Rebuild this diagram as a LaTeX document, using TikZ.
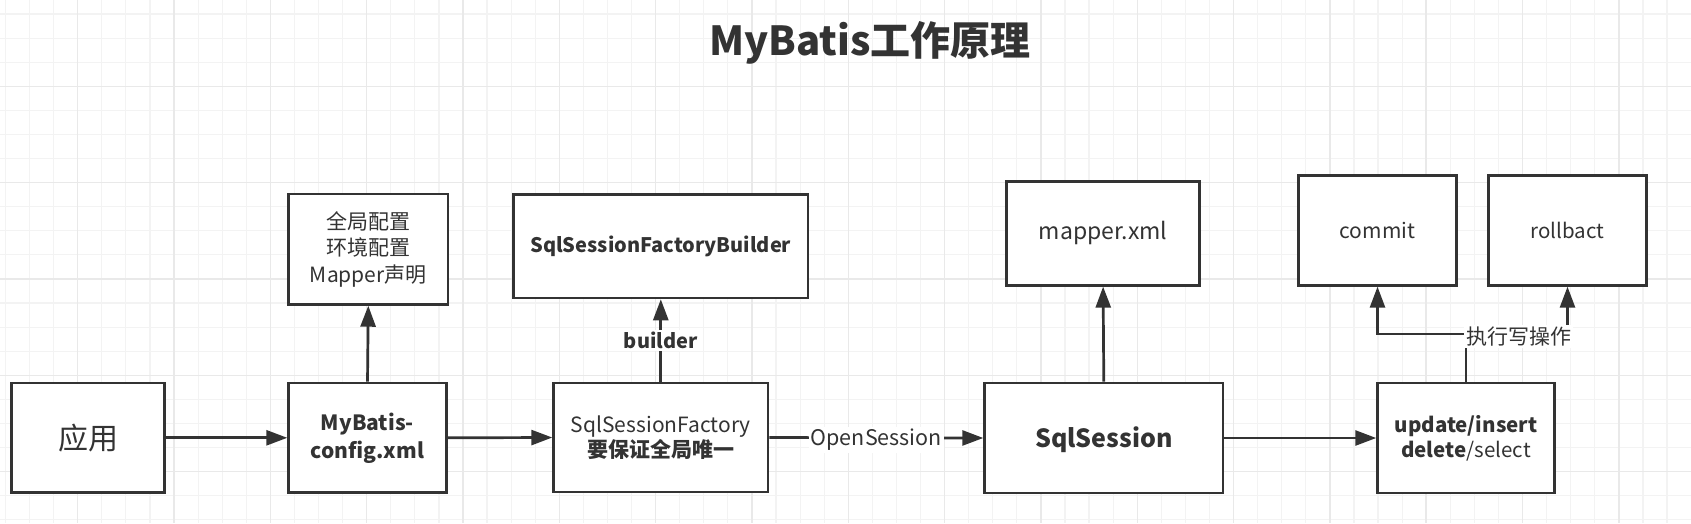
\documentclass[tikz,border=0pt]{standalone}
\usepackage{fontspec}
\setmainfont{Noto Sans CJK SC}
\usetikzlibrary{arrows.meta}
\definecolor{ink}{HTML}{333333}
\definecolor{gmin}{HTML}{F3F3F3}
\definecolor{gmaj}{HTML}{E9E9E9}
\newcommand{\fsz}[2]{\fontsize{#1}{#2}\selectfont}
\begin{document}
\begin{tikzpicture}[x=1pt,y=-1pt,
  box/.style={draw=ink,line width=2.7pt,fill=white,inner sep=0pt,align=center,text=ink},
  conn/.style={draw=ink,line width=2.7pt,-{Triangle[length=21pt,width=15pt]}},
  lbl/.style={fill=white,text=ink,inner sep=2pt}]
\useasboundingbox (0,0) rectangle (1691,523);
\fill[white] (0,0) rectangle (1691,523);
% grid
\foreach \k in {0,...,71} \draw[gmin,line width=1.2pt] ({-18.6+24.08*\k},0) -- ({-18.6+24.08*\k},523);
\foreach \k in {0,...,22} \draw[gmin,line width=1.2pt] (0,{-10+24.08*\k}) -- (1691,{-10+24.08*\k});
\foreach \k in {0,...,18} \draw[gmaj,line width=1.5pt] ({-18.6+96.32*\k},0) -- ({-18.6+96.32*\k},523);
\foreach \k in {0,...,6} \draw[gmaj,line width=1.5pt] (0,{-10+96.32*\k}) -- (1691,{-10+96.32*\k});
% title
\node[text=ink,font=\fsz{40}{46}\bfseries] (title) at (870,43) {MyBatis工作原理};
% boxes
\node[box,minimum width=153.3pt,minimum height=109.6pt,font=\fsz{30}{36}] (app) at (88,437.8) {应用};
\node[box,minimum width=157.7pt,minimum height=109.6pt,font=\fsz{21}{28}\bfseries] (cfg) at (367.5,437.8) {MyBatis-\\config.xml};
\node[box,minimum width=159.3pt,minimum height=110.3pt,font=\fsz{21}{26.5}] (glob) at (368.3,249.2) {全局配置\\环境配置\\Mapper声明};
\node[box,minimum width=214.3pt,minimum height=109pt,font=\fsz{21}{25}] (fac) at (660.8,437.5) {SqlSessionFactory\\\textbf{要保证全局唯一}};
\node[box,minimum width=294.3pt,minimum height=103.3pt,font=\fsz{20}{26}\bfseries] (bld) at (660.8,246.3) {SqlSessionFactoryBuilder};
\node[box,minimum width=238.3pt,minimum height=110pt,font=\fsz{25}{30}\bfseries,text depth=1pt] (ses) at (1103.8,438) {SqlSession};
\node[box,minimum width=193.3pt,minimum height=104pt,font=\fsz{23}{28}] (map) at (1103.1,233.3) {mapper.xml};
\node[box,minimum width=176.8pt,minimum height=110pt,font=\fsz{20.5}{25}] (upd) at (1466,438) {\textbf{update/insert}\\\textbf{delete}/select};
\node[box,minimum width=158.3pt,minimum height=110pt,font=\fsz{21}{24}] (com) at (1377.5,230.3) {commit};
\node[box,minimum width=158.3pt,minimum height=110pt,font=\fsz{20.5}{24}] (rol) at (1567.5,230.3) {rollbact};
% connectors
\draw[conn] (app.east) -- (cfg.west);
\draw[conn] (cfg.east) -- (fac.west);
\draw[conn] (cfg.north) -- (glob.south);
\draw[conn] (fac.north) -- node[lbl,font=\fsz{20}{24}\bfseries] (blbl) {builder} (bld.south);
\draw[conn] (fac.east) -- node[lbl,font=\fsz{21.5}{24},yshift=-2pt] (olbl) {OpenSession} (ses.west);
\draw[conn] (ses.north) -- (map.south);
\draw[conn] (ses.east) -- (upd.west);
\coordinate (ylev) at (0,334);
\draw[conn] (upd.north) -- (upd.north |- ylev) -| (com.south);
\draw[conn] (upd.north) -- (upd.north |- ylev) -| (rol.south);
\node[lbl,font=\fsz{21}{24}] (wlbl) at (1518.5,336.7) {执行写操作};
\end{tikzpicture}
\end{document}
